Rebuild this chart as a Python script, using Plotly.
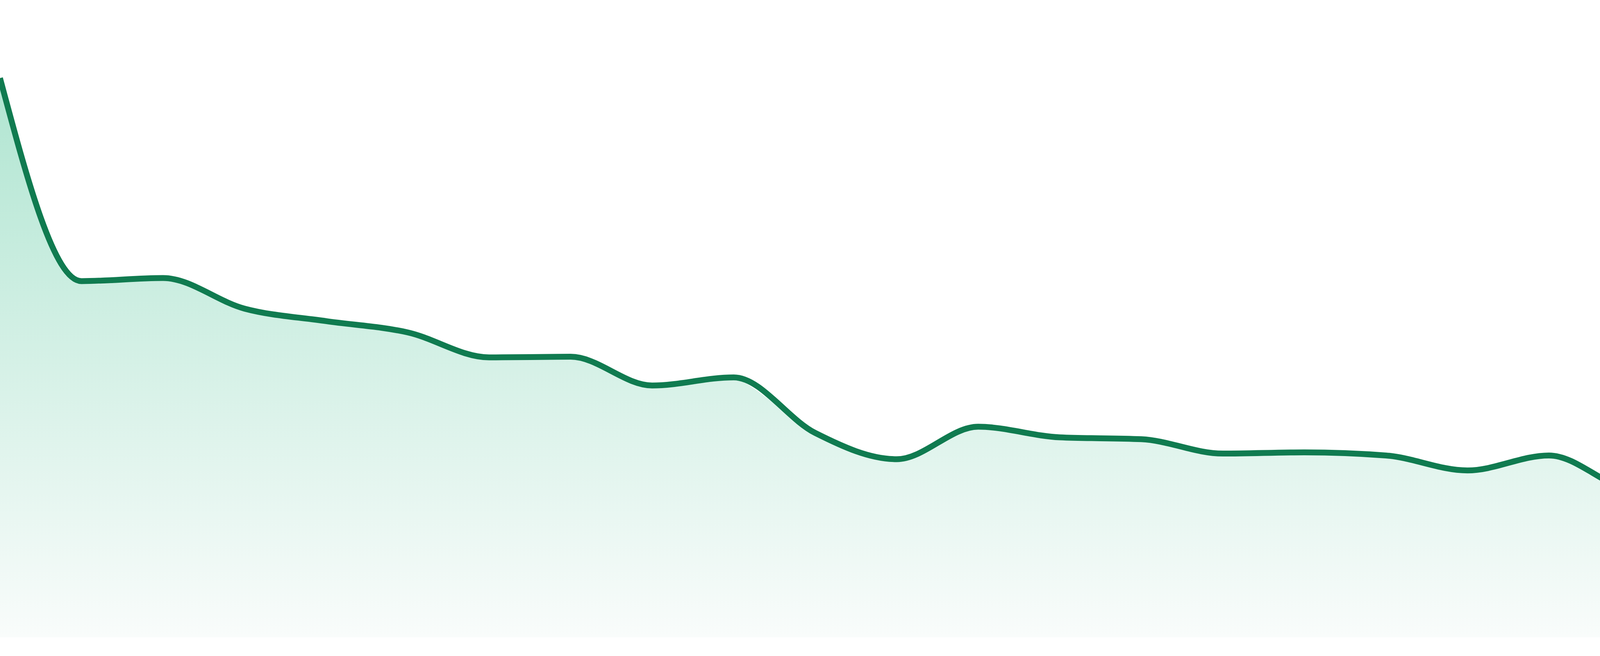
import plotly.graph_objects as go

# Data (arbitrary units, 24 evenly spaced samples)
index = list(range(24))
values = [89.5, 57.0, 57.5, 52.6, 50.6, 48.8, 44.8, 44.9, 40.3, 41.6,
          32.7, 28.5, 33.7, 32.0, 31.7, 29.4, 29.6, 29.1, 26.7, 29.1,
          23.6, 22.6, 21.6, 18.6]

Y_MAX = 102  # top of the value axis

LINE_COLOR = "#107B50"
FILL_TOP = "rgb(176,229,209)"
FILL_BOTTOM = "rgb(249,252,251)"


def _sign(v):
    return (v > 0) - (v < 0)


def monotone_path(xs, ys):
    """SVG path (data coordinates) of a monotone-x cubic curve through the points."""
    n = len(xs)
    h = [xs[i + 1] - xs[i] for i in range(n - 1)]
    s = [(ys[i + 1] - ys[i]) / h[i] for i in range(n - 1)]
    t = [0.0] * n
    for i in range(1, n - 1):
        p = (s[i - 1] * h[i] + s[i] * h[i - 1]) / (h[i - 1] + h[i])
        t[i] = (_sign(s[i - 1]) + _sign(s[i])) * min(abs(s[i - 1]), abs(s[i]), 0.5 * abs(p))
    t[0] = (3 * s[0] - t[1]) / 2
    t[-1] = (3 * s[-1] - t[-2]) / 2
    parts = [f"M {xs[0]},{ys[0]}"]
    for i in range(n - 1):
        dx = h[i] / 3
        c1x, c1y = xs[i] + dx, ys[i] + dx * t[i]
        c2x, c2y = xs[i + 1] - dx, ys[i + 1] - dx * t[i + 1]
        parts.append(f"C {c1x},{c1y} {c2x},{c2y} {xs[i + 1]},{ys[i + 1]}")
    return " ".join(parts)


curve = monotone_path(index, values)

fig = go.Figure()
# gradient area under the series
fig.add_trace(go.Scatter(
    x=index,
    y=values,
    mode="lines",
    line=dict(color="rgba(0,0,0,0)", width=0, shape="spline", smoothing=0.6),
    fill="tozeroy",
    fillgradient=dict(
        type="vertical",
        colorscale=[[0, FILL_BOTTOM], [1, FILL_TOP]],
        start=0,
        stop=max(values),
    ),
    hoverinfo="skip",
    showlegend=False,
))

# clip the area to the monotone curve (paint background above it)
fig.add_shape(
    type="path",
    path=f"{curve} L {index[-1]},{Y_MAX} L {index[0]},{Y_MAX} Z",
    xref="x",
    yref="y",
    fillcolor="white",
    line=dict(width=0),
    layer="above",
)

# the series line, drawn with a monotone curve through the same data
fig.add_shape(
    type="path",
    path=curve,
    xref="x",
    yref="y",
    line=dict(color=LINE_COLOR, width=15),
    layer="above",
)

fig.update_layout(
    width=4800,
    height=1680,
    margin=dict(l=0, r=0, t=0, b=48, pad=0),
    paper_bgcolor="white",
    plot_bgcolor="white",
    showlegend=False,
    xaxis=dict(visible=False, range=[0, len(index) - 1], fixedrange=True),
    yaxis=dict(visible=False, range=[0, Y_MAX], fixedrange=True),
)

fig.write_html(
    "out.html",
    config={"displayModeBar": False},
    post_script="document.body.style.margin='0';document.body.style.overflow='hidden';",
)
